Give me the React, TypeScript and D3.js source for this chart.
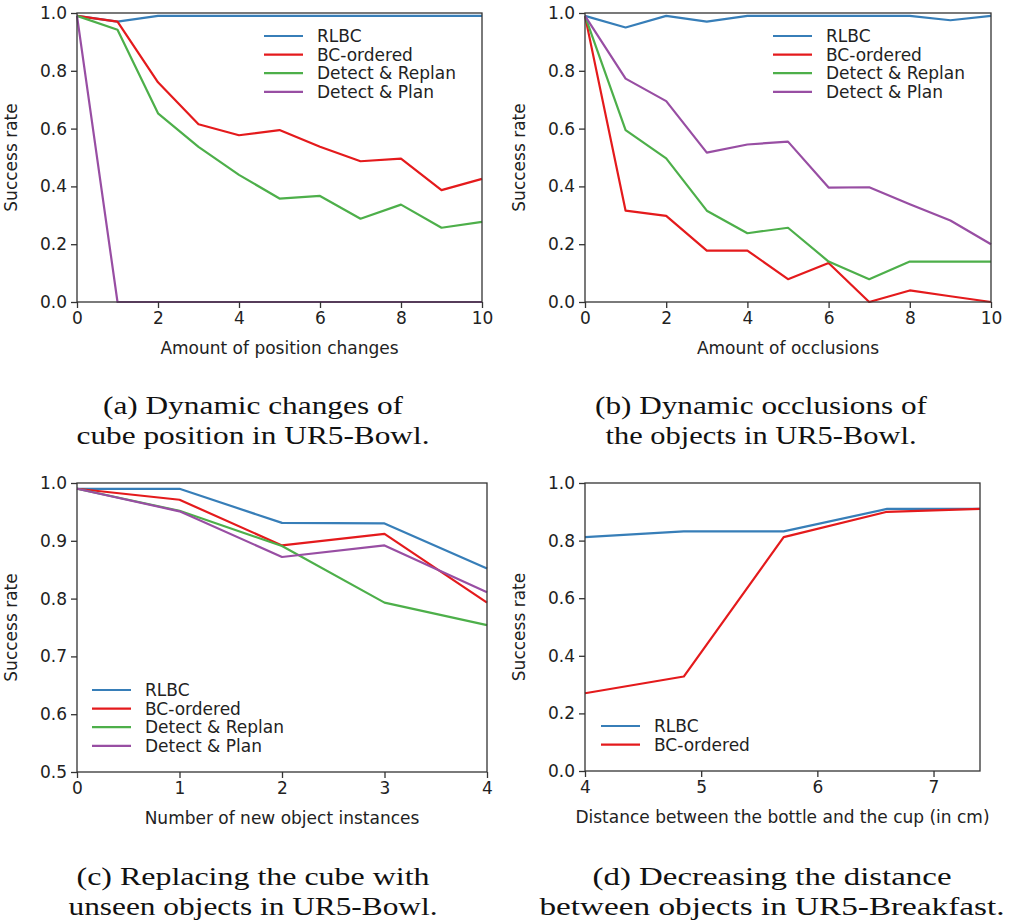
import { useRef, useEffect } from 'react';
import * as d3 from 'd3';

/* ── data ─────────────────────────────────────────────── */
const SERIES = ["RLBC", "BC-ordered", "Detect & Replan", "Detect & Plan"];
const COLORS = ["#377eb8", "#e41a1c", "#4daf4a", "#984ea3"];

// (a) position changes
const posX = [0, 1, 2, 3, 4, 5, 6, 7, 8, 9, 10];
const posRLBC = [0.99, 0.97, 0.99, 0.99, 0.99, 0.99, 0.99, 0.99, 0.99, 0.99, 0.99];
const posBC = [0.99, 0.97, 0.76, 0.615, 0.577, 0.595, 0.537, 0.487, 0.496, 0.387, 0.426];
const posReplan = [0.99, 0.942, 0.653, 0.537, 0.44, 0.358, 0.367, 0.288, 0.337, 0.257, 0.277];
const posPlan = [0.99, 0, 0, 0, 0, 0, 0, 0, 0, 0, 0];

// (b) occlusions
const occX = [0, 1, 2, 3, 4, 5, 6, 7, 8, 9, 10];
const occRLBC = [0.99, 0.95, 0.99, 0.97, 0.99, 0.99, 0.99, 0.99, 0.99, 0.975, 0.99];
const occBC = [0.99, 0.316, 0.298, 0.178, 0.178, 0.079, 0.135, 0.0, 0.04, 0.02, 0.0];
const occReplan = [0.99, 0.595, 0.497, 0.316, 0.238, 0.257, 0.14, 0.079, 0.14, 0.14, 0.14];
const occPlan = [0.99, 0.773, 0.695, 0.517, 0.545, 0.555, 0.396, 0.397, 0.338, 0.282, 0.2];

// (c) new object instances
const instX = [0, 1, 2, 3, 4];
const instRLBC = [0.99, 0.99, 0.931, 0.93, 0.852];
const instBC = [0.99, 0.971, 0.892, 0.912, 0.793];
const instReplan = [0.99, 0.952, 0.891, 0.793, 0.754];
const instPlan = [0.99, 0.951, 0.872, 0.892, 0.811];

// (d) bottle / cup distance
const distX = [4.0, 4.85, 5.71, 6.6, 7.4];
const distRLBC = [0.812, 0.832, 0.832, 0.91, 0.91];
const distBC = [0.27, 0.328, 0.812, 0.9, 0.91];

const ticks02 = [0, 0.2, 0.4, 0.6, 0.8, 1.0];
const ticks01 = [0.5, 0.6, 0.7, 0.8, 0.9, 1.0];

const CAPTIONS = [
  ["(a) Dynamic changes of", "cube position in UR5-Bowl."],
  ["(b) Dynamic occlusions of", "the objects in UR5-Bowl."],
  ["(c) Replacing the cube with", "unseen objects in UR5-Bowl."],
  ["(d) Decreasing the distance", "between objects in UR5-Breakfast."],
];

const FONT = "DejaVu Sans, sans-serif";

function drawPanel(svg, cfg) {
  const { left, right, top, bottom, xDomain, xTicks, yDomain, yTicks, xLabel, xs, ys, legend } = cfg;
  const g = svg.append("g");
  const x = d3.scaleLinear().domain(xDomain).range([left, right]);
  const y = d3.scaleLinear().domain(yDomain).range([bottom, top]);

  const line = d3.line().x(d => x(d[0])).y(d => y(d[1]));

  ys.forEach((vals, i) => {
    if (!vals) return;
    g.append("path")
      .datum(xs.map((v, j) => [v, vals[j]]))
      .attr("d", line)
      .attr("fill", "none")
      .attr("stroke", COLORS[i])
      .attr("stroke-width", 2.2)
      .attr("stroke-linejoin", "round");
  });

  // frame
  g.append("rect")
    .attr("x", left).attr("y", top)
    .attr("width", right - left).attr("height", bottom - top)
    .attr("fill", "none").attr("stroke", "#333").attr("stroke-width", 1.3);

  const xAxis = g.append("g")
    .attr("transform", `translate(0,${bottom})`)
    .call(d3.axisBottom(x).tickValues(xTicks).tickSize(6).tickPadding(4).tickFormat(d3.format("d")));
  const yAxis = g.append("g")
    .attr("transform", `translate(${left},0)`)
    .call(d3.axisLeft(y).tickValues(yTicks).tickSize(6).tickPadding(4).tickFormat(d3.format(".1f")));

  [xAxis, yAxis].forEach(a => {
    a.select(".domain").remove();
    a.selectAll("line").attr("stroke", "#333").attr("stroke-width", 1.3);
    a.selectAll("text")
      .attr("fill", "#222")
      .style("font-family", FONT)
      .style("font-size", "17px");
  });

  g.append("text")
    .attr("x", (left + right) / 2).attr("y", bottom + 52)
    .attr("text-anchor", "middle")
    .style("font-family", FONT).style("font-size", "17px").attr("fill", "#222")
    .text(xLabel);

  g.append("text")
    .attr("transform", `translate(${left - 60},${(top + bottom) / 2}) rotate(-90)`)
    .attr("text-anchor", "middle")
    .style("font-family", FONT).style("font-size", "17px").attr("fill", "#222")
    .text("Success rate");

  // legend
  legend.names.forEach((name, i) => {
    const ly = legend.y + i * 18.6;
    g.append("line")
      .attr("x1", legend.x).attr("x2", legend.x + 39)
      .attr("y1", ly).attr("y2", ly)
      .attr("stroke", COLORS[i]).attr("stroke-width", 2.2);
    g.append("text")
      .attr("x", legend.x + 53).attr("y", ly).attr("dy", "0.36em")
      .style("font-family", FONT).style("font-size", "17px").attr("fill", "#222")
      .text(name);
  });
}

export default function App() {
  const svgRef = useRef(null);

  useEffect(() => {
    const svg = d3.select(svgRef.current);
    svg.selectAll("*").remove();

    drawPanel(svg, {
      left: 77, right: 482, top: 13, bottom: 302,
      xDomain: [0, 10], xTicks: [0, 2, 4, 6, 8, 10],
      yDomain: [0, 1], yTicks: ticks02,
      xLabel: "Amount of position changes",
      xs: posX, ys: [posRLBC, posBC, posReplan, posPlan],
      legend: { x: 264, y: 36, names: SERIES },
    });
    drawPanel(svg, {
      left: 585, right: 991, top: 13, bottom: 302,
      xDomain: [0, 10], xTicks: [0, 2, 4, 6, 8, 10],
      yDomain: [0, 1], yTicks: ticks02,
      xLabel: "Amount of occlusions",
      xs: occX, ys: [occRLBC, occBC, occReplan, occPlan],
      legend: { x: 773, y: 36, names: SERIES },
    });
    drawPanel(svg, {
      left: 77, right: 487, top: 483, bottom: 772,
      xDomain: [0, 4], xTicks: [0, 1, 2, 3, 4],
      yDomain: [0.5, 1], yTicks: ticks01,
      xLabel: "Number of new object instances",
      xs: instX, ys: [instRLBC, instBC, instReplan, instPlan],
      legend: { x: 92, y: 690, names: SERIES },
    });
    drawPanel(svg, {
      left: 585, right: 980, top: 483, bottom: 771,
      xDomain: [4, 7.4], xTicks: [4, 5, 6, 7],
      yDomain: [0, 1], yTicks: ticks02,
      xLabel: "Distance between the bottle and the cup (in cm)",
      xs: distX, ys: [distRLBC, distBC],
      legend: { x: 601, y: 726, names: SERIES.slice(0, 2) },
    });

    // captions (Computer Modern is wider than Times, so stretch to the measured widths)
    const capPos = [[253, 405], [761, 405], [253, 876], [772, 876]];
    const capWidth = [[300, 353], [332, 311], [353, 369], [359, 465]];
    CAPTIONS.forEach((lines, i) => {
      lines.forEach((t, j) => {
        svg.append("text")
          .attr("x", capPos[i][0] - capWidth[i][j] / 2).attr("y", capPos[i][1] + j * 30)
          .attr("dy", "0.35em")
          .attr("textLength", capWidth[i][j])
          .attr("lengthAdjust", "spacingAndGlyphs")
          .style("font-family", "Liberation Serif, serif")
          .style("font-size", "26px")
          .attr("fill", "#111")
          .text(t);
      });
    });
  }, []);

  return (
    <svg ref={svgRef} width={1009} height={924}
      style={{ position: "absolute", left: 0, top: 0, background: "#fff" }} />
  );
}
